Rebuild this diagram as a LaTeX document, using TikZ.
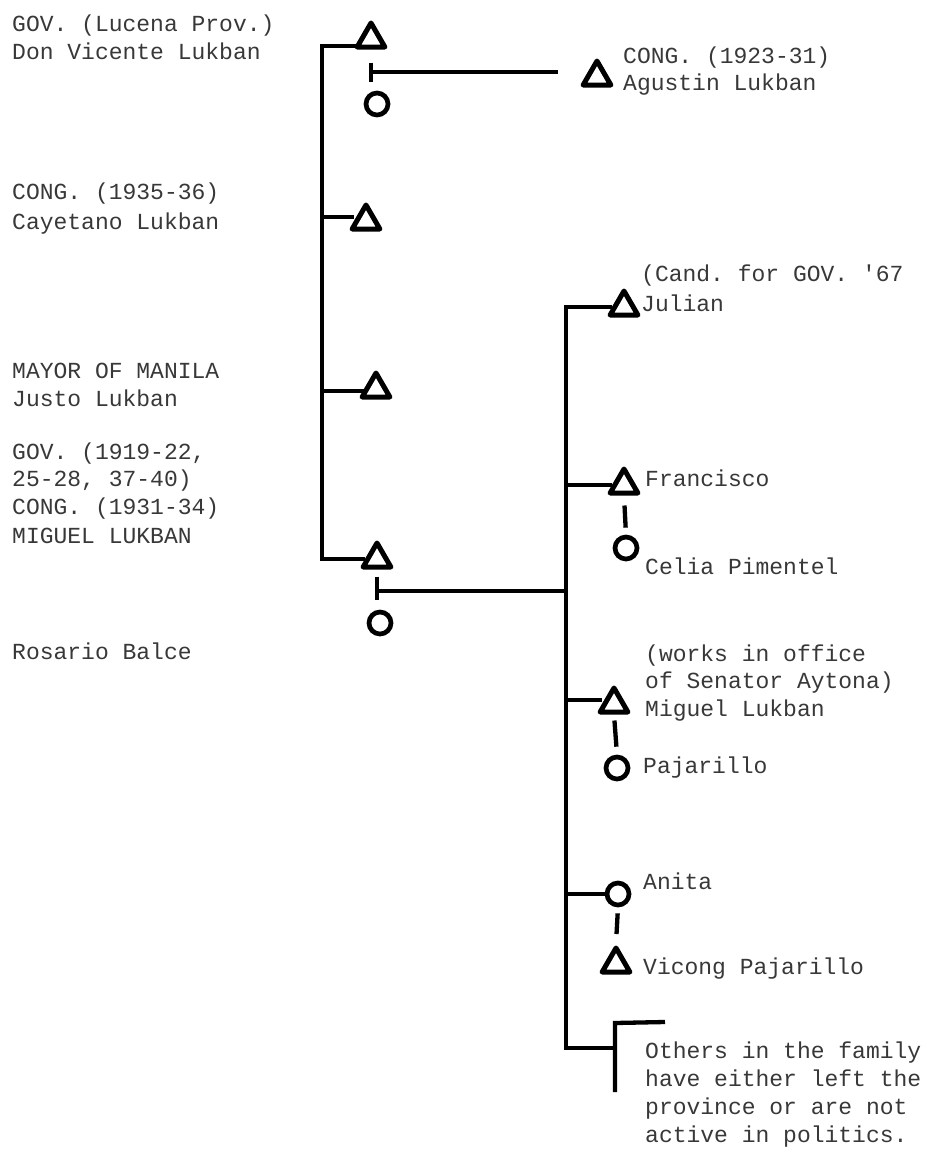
\documentclass[tikz,border=0pt]{standalone}
\usepackage{fontspec}
\newfontfamily\typewriter{Liberation Mono}
\usetikzlibrary{shapes.geometric}
\frenchspacing
\begin{document}
\begin{tikzpicture}[x=1pt,y=-1pt,
  link/.style={line width=4.3pt},
  male/.style={draw, regular polygon, regular polygon sides=3, minimum size=32pt,
    inner sep=0pt, line join=round, line width=5pt},
  female/.style={draw, circle, minimum size=22pt, inner sep=0pt, line width=4.7pt},
  txt/.style={anchor=base west, inner sep=0pt, text=black!78,
    font=\typewriter\fontsize{23}{28}\selectfont}]
\useasboundingbox (0,0) rectangle (932,1151);

% ---------- people ----------
\node[male]   (vicente)   at (371,39)  {};
\node[female] (vicenteW)  at (377,104) {};
\node[male]   (agustin)   at (597,77)  {};
\node[male]   (cayetano)  at (366,221) {};
\node[male]   (justo)     at (376,389) {};
\node[male]   (miguel)    at (377,559) {};
\node[female] (rosario)   at (380,623) {};

\node[male]   (julian)    at (624,307) {};
\node[male]   (francisco) at (624,485) {};
\node[female] (celia)     at (626,548) {};
\node[male]   (miguelJr)  at (614,704) {};
\node[female] (pajarillo) at (617,768) {};
\node[female] (anita)     at (618,894) {};
\node[male]   (vicong)    at (616,964) {};

% ---------- sibling spines ----------
\coordinate (lsp) at (322,0);
\coordinate (rsp) at (566,0);
\draw[link] ([yshift=-7pt]vicente.west) -| (lsp |- miguel.west) -- (miguel.west);
\draw[link] ([yshift=4pt]cayetano.west) -- ([yshift=4pt]cayetano.west -| lsp);
\draw[link] ([yshift=-2pt]justo.west) -- ([yshift=-2pt]justo.west -| lsp);

\coordinate (rbot) at (566,1048);
\draw[link] (julian.west) -| (rbot) -- (615,1048);
\draw[link] (francisco.west) -- (francisco.west -| rsp);
\draw[link] ([yshift=4pt]miguelJr.west) -- ([yshift=4pt]miguelJr.west -| rsp);
\draw[link] (anita.west) -- (anita.west -| rsp);

% ---------- marriages and descent ----------
\draw[link, shorten <=13pt, shorten >=9pt] (vicente.south) -- (vicente.south |- vicenteW.north);
\coordinate (wedA) at (371,72);
\coordinate (agustinLine) at (558,72);
\draw[link] (wedA) -- (agustinLine);

\draw[link, shorten <=7pt, shorten >=10pt] (miguel.south) -- (miguel.south |- rosario.north);
\coordinate (wedB) at (377,591);
\draw[link] (wedB) -- (wedB -| rsp);

\draw[link, shorten <=10pt, shorten >=7pt] (francisco.south) -- (celia.north);
\draw[link, shorten <=6pt, shorten >=8pt] (miguelJr.south) -- (pajarillo.north);
\draw[link, shorten <=6pt, shorten >=9pt] (anita.south) -- (vicong.north);

% ---------- remaining family ----------
\coordinate (othTop) at (615,1023);
\coordinate (othEnd) at (665,1022);
\coordinate (othBot) at (615,1092);
\draw[link] (othEnd) -- (othTop) -- (othBot);

% ---------- left captions ----------
\node[txt] (t1) at (12,31.5)  {GOV. (Lucena Prov.)};
\node[txt] (t2) at (12,59.5)  {Don Vicente Lukban};
\node[txt] (t3) at (12,199.5) {CONG. (1935-36)};
\node[txt] (t4) at (12,229.5) {Cayetano Lukban};
\node[txt] (t5) at (12,378.5) {MAYOR OF MANILA};
\node[txt] (t6) at (12,406.5) {Justo Lukban};
\node[txt] (t7) at (12,459.5) {GOV. (1919-22,};
\node[txt] (t8) at (12,486.5) {25-28, 37-40)};
\node[txt] (t9) at (12,514.5) {CONG. (1931-34)};
\node[txt] (t10) at (12,543.5) {MIGUEL LUKBAN};
\node[txt] (t11) at (12,659.5) {Rosario Balce};

% ---------- right captions ----------
\node[txt] (r1) at (623,63.5)  {CONG. (1923-31)};
\node[txt] (r2) at (623,90.5)  {Agustin Lukban};
\node[txt] (r3) at (641,281.5) {(Cand. for GOV. '67};
\node[txt] (r4) at (641,311.5) {Julian};
\node[txt] (r5) at (645,486.5) {Francisco};
\node[txt] (r6) at (645,574.5) {Celia Pimentel};
\node[txt] (r7) at (645,661.5) {(works in office};
\node[txt] (r8) at (645,688.5) {of Senator Aytona)};
\node[txt] (r9) at (645,716.5) {Miguel Lukban};
\node[txt] (r10) at (643,773.5) {Pajarillo};
\node[txt] (r11) at (643,889.5) {Anita};
\node[txt] (r12) at (643,974.5) {Vicong Pajarillo};
\node[txt] (r13) at (645,1058.5) {Others in the family};
\node[txt] (r14) at (645,1086.5) {have either left the};
\node[txt] (r15) at (645,1114.5) {province or are not};
\node[txt] (r16) at (645,1142.5) {active in politics.};
\end{tikzpicture}
\end{document}
